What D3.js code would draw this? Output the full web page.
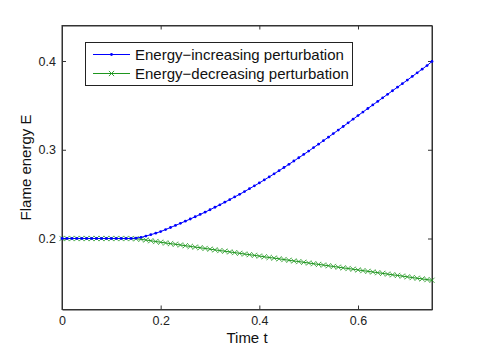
<!DOCTYPE html>
<html>
<head>
<meta charset="utf-8">
<script src="https://cdn.jsdelivr.net/npm/d3@7"></script>
<style>
  html, body { margin: 0; padding: 0; background: #fff; }
  svg { display: block; font-family: "Liberation Sans", Arial, Helvetica, sans-serif; }
</style>
</head>
<body>
<svg id="chart" width="477" height="349"></svg>
<script>
// ---- data ----
const times = d3.range(76).map(i => +(i * 0.01).toFixed(2));
const increasingE = [
  0.2000,0.2000,0.2000,0.2000,0.2000,0.2000,0.2000,0.2000,0.2000,0.2000,
  0.2000,0.2000,0.2000,0.2000,0.2000,0.2004,0.2013,0.2027,0.2043,0.2060,
  0.2078,0.2101,0.2124,0.2147,0.2171,0.2195,0.2220,0.2245,0.2271,0.2297,
  0.2324,0.2352,0.2380,0.2409,0.2438,0.2468,0.2498,0.2529,0.2561,0.2593,
  0.2626,0.2660,0.2694,0.2729,0.2764,0.2800,0.2836,0.2873,0.2910,0.2947,
  0.2985,0.3024,0.3063,0.3102,0.3142,0.3182,0.3222,0.3262,0.3303,0.3344,
  0.3385,0.3425,0.3465,0.3505,0.3545,0.3585,0.3625,0.3665,0.3705,0.3745,
  0.3785,0.3826,0.3867,0.3908,0.3949,0.3995
];
const decreasingE = [
  0.2000,0.2000,0.2000,0.2000,0.2000,0.2000,0.2000,0.2000,0.2000,0.2000,
  0.2000,0.2000,0.2000,0.2000,0.2000,0.1997,0.1991,0.1983,0.1975,0.1966,
  0.1958,0.1950,0.1942,0.1935,0.1927,0.1919,0.1911,0.1903,0.1896,0.1888,
  0.1880,0.1872,0.1864,0.1857,0.1849,0.1841,0.1833,0.1825,0.1818,0.1810,
  0.1802,0.1794,0.1786,0.1779,0.1771,0.1763,0.1755,0.1747,0.1740,0.1732,
  0.1724,0.1716,0.1708,0.1701,0.1693,0.1685,0.1677,0.1669,0.1662,0.1654,
  0.1646,0.1638,0.1630,0.1623,0.1615,0.1607,0.1599,0.1591,0.1584,0.1576,
  0.1568,0.1560,0.1552,0.1545,0.1537,0.1529
];
const seriesNames = ["Energy\u2212increasing perturbation", "Energy\u2212decreasing perturbation"];
const xTicks = [0, 0.2, 0.4, 0.6];
const yTicks = [0.2, 0.3, 0.4];
const xLabel = "Time t";
const yLabel = "Flame energy E";

// ---- layout ----
const svg = d3.select("#chart");
const L = 62, R = 432, T = 25.5, B = 309.5;
const x = d3.scaleLinear().domain([0, 0.75]).range([L, R]);
const y = d3.scaleLinear().domain([0.12, 0.44]).range([B, T]);
const axisColor = "#333";
const blue = "#0000ff";
const green = "#1e961e";

svg.append("rect").attr("x", L).attr("y", T).attr("width", R - L).attr("height", B - T)
  .attr("fill", "#fff");

const fmt = d => d === 0 ? "0" : d3.format(".1f")(d);
const gx = svg.append("g").attr("transform", `translate(0,${B})`)
  .call(d3.axisBottom(x).tickValues(xTicks).tickFormat(fmt).tickSizeInner(-4).tickSizeOuter(0).tickPadding(7));
const gxt = svg.append("g").attr("transform", `translate(0,${T})`)
  .call(d3.axisTop(x).tickValues(xTicks).tickFormat("").tickSizeInner(-4).tickSizeOuter(0));
const gy = svg.append("g").attr("transform", `translate(${L},0)`)
  .call(d3.axisLeft(y).tickValues(yTicks).tickFormat(fmt).tickSizeInner(-4).tickSizeOuter(0).tickPadding(6));
const gyr = svg.append("g").attr("transform", `translate(${R},0)`)
  .call(d3.axisRight(y).tickValues(yTicks).tickFormat("").tickSizeInner(-4).tickSizeOuter(0));
[gx, gxt, gy, gyr].forEach(g => {
  g.select(".domain").attr("stroke", axisColor).attr("stroke-width", 1);
  g.selectAll(".tick line").attr("stroke", axisColor);
  g.selectAll(".tick text").attr("fill", "#222").style("font-size", "12.5px")
    .style("font-family", "'Liberation Sans', Arial, sans-serif");
});
svg.append("rect").attr("x", L).attr("y", T).attr("width", R - L).attr("height", B - T)
  .attr("fill", "none").attr("stroke", axisColor).attr("stroke-width", 1);

// series
const line = d3.line().x((d, i) => x(times[i])).y(d => y(d));
const g = svg.append("g");
g.append("path").datum(decreasingE).attr("d", line)
  .attr("fill", "none").attr("stroke", green).attr("stroke-width", 1);
g.selectAll(".gm").data(decreasingE).enter().append("path")
  .attr("transform", (d, i) => `translate(${x(times[i])},${y(d)})`)
  .attr("d", "M-2.6,-2.6L2.6,2.6M-2.6,2.6L2.6,-2.6")
  .attr("stroke", green).attr("stroke-width", 0.9).attr("fill", "none").attr("opacity", 0.85);

g.append("path").datum(increasingE).attr("d", line)
  .attr("fill", "none").attr("stroke", blue).attr("stroke-width", 1);
g.selectAll(".bm").data(increasingE).enter().append("circle")
  .attr("cx", (d, i) => x(times[i])).attr("cy", d => y(d)).attr("r", 1.4)
  .attr("fill", blue);

// axis labels
svg.append("text").attr("x", (L + R) / 2).attr("y", 342.5).attr("text-anchor", "middle")
  .style("font-size", "15px").attr("fill", "#111").text(xLabel);
svg.append("text").attr("transform", `translate(31,${(T + B) / 2}) rotate(-90)`)
  .attr("text-anchor", "middle").style("font-size", "15px").attr("fill", "#111").text(yLabel);

// legend
const lg = svg.append("g");
lg.append("rect").attr("x", 85.5).attr("y", 42.5).attr("width", 267).attr("height", 43)
  .attr("fill", "#fff").attr("stroke", "#222").attr("stroke-width", 1);
const rows = [
  { name: seriesNames[0], color: blue, type: "dot", yy: 54.5 },
  { name: seriesNames[1], color: green, type: "x", yy: 73.5 }
];
rows.forEach(r => {
  lg.append("line").attr("x1", 93).attr("x2", 130).attr("y1", r.yy).attr("y2", r.yy)
    .attr("stroke", r.color).attr("stroke-width", 1);
  if (r.type === "dot") {
    lg.append("circle").attr("cx", 111.5).attr("cy", r.yy).attr("r", 1.4).attr("fill", r.color);
  } else {
    lg.append("path").attr("transform", `translate(111.5,${r.yy})`)
      .attr("d", "M-2.6,-2.6L2.6,2.6M-2.6,2.6L2.6,-2.6")
      .attr("stroke", r.color).attr("stroke-width", 0.9).attr("fill", "none");
  }
  lg.append("text").attr("x", 135).attr("y", r.yy + 5.3).style("font-size", "15px")
    .attr("fill", "#111").text(r.name);
});
</script>
</body>
</html>
